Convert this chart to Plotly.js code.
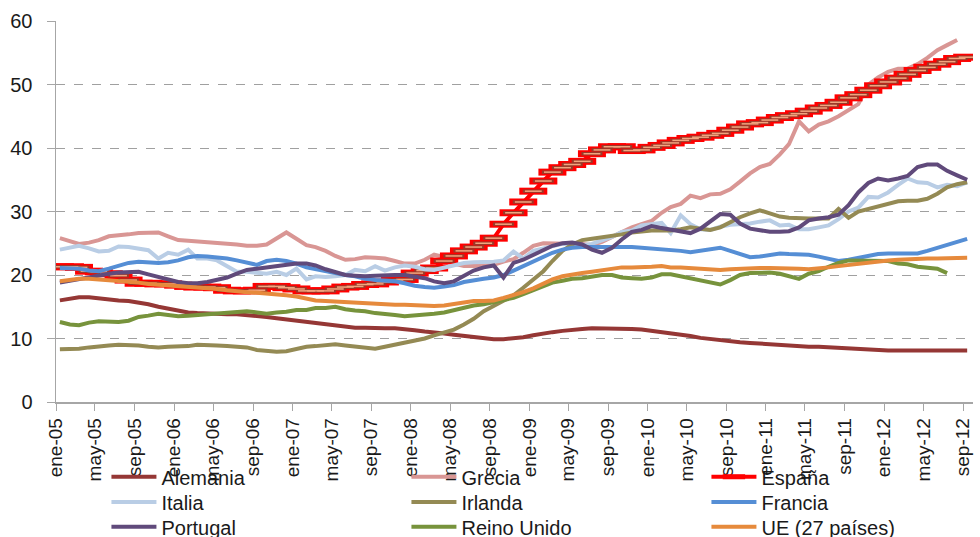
<!DOCTYPE html>
<html>
<head>
<meta charset="utf-8">
<script src="https://cdn.plot.ly/plotly-3.0.1.min.js"></script>
<style>
  html, body { margin: 0; padding: 0; background: #ffffff; }
  #chart { width: 980px; height: 537px; }
</style>
</head>
<body>
<div id="chart"></div>
<script>
// ---------- DATA (monthly, ene-05 .. sep-12) ----------
const tickLabels = ['ene-05','may-05','sep-05','ene-06','may-06','sep-06','ene-07','may-07','sep-07',
  'ene-08','may-08','sep-08','ene-09','may-09','sep-09','ene-10','may-10','sep-10',
  'ene-11','may-11','sep-11','ene-12','may-12','sep-12'];

const alemania = [16.0,16.3,16.5,16.5,16.3,16.2,16.0,15.9,15.7,15.4,15.0,14.7,
  14.4,14.1,14.0,13.9,13.9,13.8,13.8,13.7,13.6,13.4,13.2,13.0,
  12.8,12.6,12.4,12.2,12.0,11.8,11.7,11.7,11.6,11.6,11.6,11.5,
  11.3,11.1,11.0,10.8,10.6,10.4,10.2,10.0,9.9,9.9,10.0,10.2,
  10.5,10.8,11.0,11.2,11.4,11.5,11.6,11.6,11.5,11.5,11.5,11.4,
  11.2,11.0,10.9,10.7,10.4,10.1,9.9,9.7,9.5,9.4,9.3,9.2,
  9.0,8.9,8.8,8.8,8.7,8.7,8.6,8.5,8.4,8.3,8.2,8.2,
  8.1,8.1,8.1,8.1,8.1,8.1,8.1,8.1,8.1];

const grecia = [25.8,25.4,24.9,25.1,25.5,26.1,26.2,26.4,26.6,26.7,26.7,26.1,
  25.5,25.4,25.3,25.2,25.1,24.9,24.8,24.6,24.6,24.8,25.8,26.7,
  25.7,24.7,24.4,23.8,23.0,22.4,22.5,22.8,22.7,22.6,22.2,21.8,
  21.8,22.4,23.2,22.8,21.8,21.4,21.4,21.5,21.6,22.1,22.5,23.5,
  24.6,25.0,25.0,24.9,24.9,24.9,24.7,25.2,26.0,26.8,27.5,28.0,
  28.5,29.8,30.7,31.2,32.5,32.1,32.7,32.8,33.5,34.7,36.0,37.0,
  37.5,39.0,40.6,44.2,42.6,43.7,44.2,45.0,45.9,46.9,50.0,51.1,
  52.0,52.5,52.5,53.2,54.2,55.4,56.2,57.0];

const espana = [21.3,21.3,21.2,20.6,20.5,20.2,19.9,19.2,18.7,18.7,18.6,18.6,
  18.4,18.2,18.1,18.1,18.0,17.6,17.5,17.5,17.6,18.2,18.2,18.0,
  17.8,17.5,17.5,17.5,17.8,18.1,18.2,18.5,18.6,18.9,19.2,19.3,
  20.3,20.7,21.1,22.2,23.0,23.8,24.4,25.0,25.8,28.0,29.8,31.5,
  33.2,34.8,36.2,36.9,37.4,37.9,39.1,39.7,40.2,40.2,39.6,39.7,
  40.1,40.4,40.8,41.2,41.5,41.7,42.0,42.3,42.8,43.3,43.8,44.0,
  44.4,44.8,45.1,45.4,45.8,46.3,46.7,47.2,47.9,48.4,49.1,49.8,
  50.4,51.0,51.6,52.2,52.7,53.2,53.6,54.1,54.3];

const italia = [24.0,24.3,24.6,24.2,23.7,23.8,24.5,24.4,24.2,23.9,22.6,23.5,
  23.2,24.0,22.6,22.6,22.3,21.3,20.5,20.5,20.4,20.2,20.5,20.0,
  21.0,19.3,19.8,19.7,19.8,20.0,20.8,20.6,21.4,20.7,21.2,21.5,
  21.3,20.9,20.8,21.2,21.5,21.9,22.0,22.0,22.1,22.3,23.7,22.6,
  23.8,24.2,24.6,24.9,24.8,24.7,24.9,25.5,26.0,26.8,27.0,27.8,
  28.0,28.2,26.6,29.4,28.0,27.2,27.1,27.6,27.9,28.0,28.1,28.4,
  28.6,27.8,27.9,27.2,27.2,27.5,27.8,28.8,30.0,30.6,32.3,32.2,
  33.0,34.2,35.2,34.6,34.5,33.8,34.2,34.0,34.6];

const irlanda = [8.3,8.3,8.4,8.6,8.8,8.9,9.0,9.0,8.9,8.7,8.6,8.7,
  8.7,8.8,9.0,9.0,8.9,8.8,8.7,8.6,8.2,8.0,7.9,8.0,
  8.3,8.7,8.8,9.0,9.1,8.9,8.7,8.5,8.4,8.7,9.0,9.3,
  9.7,10.0,10.5,10.9,11.4,12.2,13.1,14.3,15.2,16.0,16.8,18.0,
  19.4,20.6,22.2,23.8,24.8,25.5,25.7,25.9,26.1,26.4,26.7,26.9,
  27.0,27.0,27.0,27.2,27.5,27.3,27.1,27.5,28.3,29.1,29.7,30.2,
  29.7,29.2,29.0,28.9,28.9,28.9,28.9,30.4,29.0,30.0,30.4,30.8,
  31.2,31.6,31.7,31.7,32.0,32.8,33.8,34.3,34.6];

const francia = [21.1,21.1,21.0,20.7,20.6,21.0,21.5,21.9,22.1,22.0,21.9,22.0,
  22.3,22.8,23.0,22.9,22.8,22.6,22.3,22.0,21.6,22.2,22.4,22.2,
  21.8,21.2,20.9,20.5,20.2,20.0,19.8,19.4,19.2,19.1,19.0,18.7,
  18.3,18.1,18.0,18.2,18.4,18.9,19.2,19.4,19.6,20.0,20.7,21.4,
  22.1,22.8,23.5,24.0,24.3,24.4,24.4,24.5,24.5,24.5,24.4,24.3,
  24.2,24.0,23.9,23.8,23.6,23.8,24.0,24.3,23.8,23.3,22.8,22.9,
  23.2,23.4,23.3,23.3,23.2,22.9,22.6,22.2,22.4,22.7,23.0,23.3,
  23.4,23.4,23.4,23.4,23.8,24.3,24.8,25.3,25.7];

const portugal = [18.8,19.1,19.4,19.7,20.0,20.2,20.4,20.5,20.5,20.1,19.7,19.3,
  18.9,18.7,18.7,18.9,19.2,19.6,20.2,20.8,21.0,21.2,21.4,21.7,
  21.8,21.8,21.5,20.9,20.4,20.0,19.9,19.8,19.9,20.0,20.0,20.0,
  19.8,19.5,19.0,18.7,19.0,19.8,20.7,21.2,21.5,19.6,21.9,22.4,
  23.2,24.0,24.6,25.0,25.1,24.8,24.0,23.5,24.3,25.6,26.8,27.1,
  27.7,27.4,27.1,26.8,26.6,27.3,28.4,29.6,29.5,28.1,27.3,27.0,
  26.8,26.8,26.9,27.5,28.6,28.9,29.1,29.5,31.0,33.0,34.5,35.2,
  34.9,35.2,35.6,37.0,37.4,37.4,36.4,35.7,35.0];

const reinoUnido = [12.6,12.2,12.1,12.5,12.7,12.6,12.6,12.8,13.4,13.6,13.9,13.7,
  13.5,13.6,13.7,13.9,14.0,14.1,14.1,14.3,14.1,13.9,14.1,14.2,
  14.5,14.5,14.8,14.8,15.0,14.6,14.4,14.3,14.0,13.9,13.7,13.5,
  13.6,13.7,13.9,14.1,14.5,14.8,15.2,15.4,15.7,16.1,16.4,17.0,
  17.6,18.2,18.8,19.1,19.4,19.5,19.8,20.0,20.0,19.6,19.5,19.4,
  19.6,20.1,20.1,19.8,19.4,19.1,18.8,18.5,19.2,20.0,20.3,20.4,
  20.4,20.2,19.8,19.4,20.2,20.6,21.3,21.9,22.3,22.3,22.3,22.3,
  22.2,21.8,21.7,21.3,21.2,21.0,20.3];

const ue27 = [19.0,19.2,19.4,19.4,19.3,19.2,19.1,18.9,18.8,18.6,18.5,18.4,
  18.3,18.2,18.1,18.0,17.8,17.6,17.4,17.3,17.2,17.1,17.0,16.8,
  16.6,16.3,16.0,15.9,15.8,15.7,15.7,15.6,15.5,15.4,15.3,15.3,
  15.2,15.2,15.1,15.2,15.4,15.6,15.9,15.9,16.0,16.4,16.8,17.3,
  17.9,18.6,19.3,19.8,20.1,20.3,20.5,20.7,21.0,21.2,21.2,21.2,
  21.3,21.4,21.2,21.2,21.1,21.0,20.9,20.8,20.9,21.0,21.1,21.1,
  21.1,21.1,21.0,21.0,20.9,21.0,21.2,21.4,21.6,21.8,22.0,22.2,
  22.3,22.4,22.5,22.6,22.6,22.6,22.6,22.7,22.7];

// ---------- helpers ----------
function pad(n) { return (n < 10 ? '0' : '') + n; }
function monthDate(i, day) {
  const y = 2005 + Math.floor(i / 12);
  const m = (i % 12) + 1;
  return y + '-' + pad(m) + '-' + day;
}
function datesFor(arr) { return arr.map((_, i) => monthDate(i, '13')); }
const tickDates = tickLabels.map((_, k) => monthDate(k * 4, '01'));

const FONT = 'Liberation Sans, Arial, sans-serif';

function lineTrace(name, values, color, legend) {
  return {
    type: 'scatter', mode: 'lines', name: name,
    x: datesFor(values), y: values,
    line: { color: color, width: 4 },
    legend: legend, hoverinfo: 'skip'
  };
}

const espX = datesFor(espana);
const traces = [
  lineTrace('Alemania', alemania, '#953735', 'legend'),
  lineTrace('Grecia', grecia, '#d99694', 'legend'),
  {
    type: 'scatter', mode: 'lines+markers', name: 'España',
    x: espX, y: espana, legend: 'legend', legendgroup: 'esp',
    line: { color: '#ff0000', width: 4 },
    marker: { symbol: 'line-ew', size: 20, color: '#ff0000', line: { color: '#ff0000', width: 7 } },
    hoverinfo: 'skip'
  },
  {
    type: 'scatter', mode: 'markers', name: 'España', showlegend: false, legendgroup: 'esp',
    x: espX, y: espana, legend: 'legend',
    marker: { symbol: 'line-ew', size: 15, color: '#9a3a2a', line: { color: '#9a3a2a', width: 3.5 } },
    hoverinfo: 'skip'
  },
  {
    type: 'scatter', mode: 'markers', name: 'España', showlegend: false, legendgroup: 'esp',
    x: espX, y: espana, legend: 'legend',
    marker: { symbol: 'line-ew', size: 12, color: '#f3a47e', line: { color: '#f3a47e', width: 1.5 } },
    hoverinfo: 'skip'
  },
  lineTrace('Italia', italia, '#b9cde5', 'legend2'),
  lineTrace('Irlanda', irlanda, '#948a54', 'legend2'),
  lineTrace('Francia', francia, '#558ed5', 'legend2'),
  lineTrace('Portugal', portugal, '#604a7b', 'legend3'),
  lineTrace('Reino Unido', reinoUnido, '#77933c', 'legend3'),
  lineTrace('UE (27 países)', ue27, '#e68a3c', 'legend3')
];

function legendRow(yc) {
  return {
    x: 0.055, xref: 'paper', xanchor: 'left',
    y: yc, yref: 'container', yanchor: 'middle',
    orientation: 'h', bgcolor: 'rgba(0,0,0,0)', borderwidth: 0,
    font: { family: FONT, size: 20, color: '#1a1a1a' },
    itemwidth: 45, entrywidth: 240, entrywidthmode: 'pixels',
    traceorder: 'normal', tracegroupgap: 0
  };
}

const layout = {
  width: 980, height: 537,
  margin: { l: 56, r: 7, t: 21, b: 135, autoexpand: false },
  paper_bgcolor: '#ffffff', plot_bgcolor: '#ffffff',
  font: { family: FONT, color: '#1a1a1a' },
  showlegend: true,
  xaxis: {
    type: 'date',
    range: ['2005-01-01', '2012-10-01'],
    tickmode: 'array', tickvals: tickDates, ticktext: tickLabels,
    tickangle: -90,
    ticks: 'outside', ticklen: 7, tickcolor: '#a6a6a6', tickwidth: 1,
    showline: true, linecolor: '#a6a6a6', linewidth: 1.5,
    showgrid: false, zeroline: false, automargin: false,
    tickfont: { family: FONT, size: 19, color: '#1a1a1a' }
  },
  yaxis: {
    range: [0, 60], tickmode: 'linear', tick0: 0, dtick: 10,
    ticks: 'outside', ticklen: 8, tickcolor: '#a6a6a6', tickwidth: 1,
    showline: true, linecolor: '#a6a6a6', linewidth: 1.5,
    showgrid: true, gridcolor: '#a0a0a0', gridwidth: 1, griddash: 'dash',
    zeroline: false, automargin: false,
    ticklabelstandoff: 10,
    tickfont: { family: FONT, size: 20, color: '#1a1a1a' }
  },
  legend: legendRow(1 - 476.7 / 537),
  legend2: legendRow(1 - 502 / 537),
  legend3: legendRow(1 - 526.7 / 537)
};

Plotly.newPlot('chart', traces, layout, { displayModeBar: false, staticPlot: true });
</script>
</body>
</html>
